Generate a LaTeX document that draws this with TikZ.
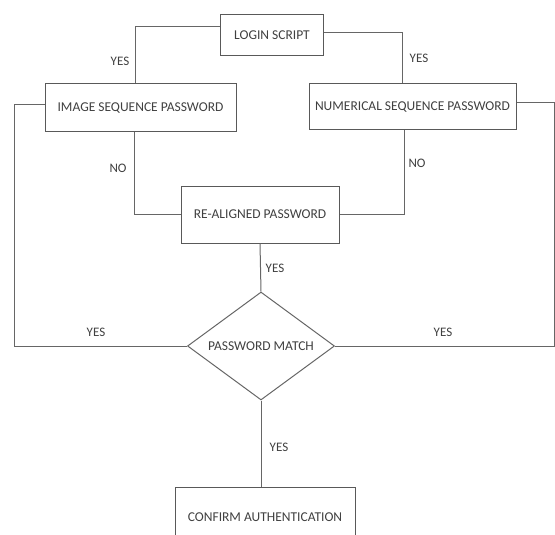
\documentclass[tikz,border=0pt]{standalone}
\usepackage{fontspec}
\setmainfont{Carlito}
\usetikzlibrary{shapes.geometric,positioning}

\tikzset{
  box/.style={draw=black!65,line width=1pt,rectangle,inner sep=0pt,text=black!75,
    font=\fontsize{13.5}{15}\selectfont},
  dec/.style={draw=black!60,line width=1pt,diamond,aspect=1.36,inner sep=0pt,
    minimum width=147pt,minimum height=108pt,text=black!75,font=\fontsize{13.5}{15}\selectfont},
  lbl/.style={inner sep=0pt,text=black!75,font=\fontsize{13}{14}\selectfont},
  con/.style={draw=black!60,line width=1pt}
}

\begin{document}
\begin{tikzpicture}[x=1pt,y=-1pt]
    \useasboundingbox (0,0) rectangle (555,535);
    \node[box,minimum width=103pt,minimum height=41pt] at (272,35.5) (login) {LOGIN SCRIPT};
    \node[box,minimum width=191pt,minimum height=48pt] at (140.5,108) (img) {IMAGE SEQUENCE PASSWORD};
    \node[box,minimum width=207pt,minimum height=46pt] at (412.5,107) (num) {NUMERICAL SEQUENCE PASSWORD};
    \node[box,minimum width=158pt,minimum height=57pt] at (260,214.5) (ral) {RE-ALIGNED PASSWORD};
    \node[dec] at (261,346) (pm) {PASSWORD MATCH};
    \node[box,minimum width=180pt,minimum height=60pt] at (265,517) (conf) {CONFIRM AUTHENTICATION};
%
    \draw[con] ([yshift=8.5pt]login.west) -| ([xshift=-5pt]img.north);
    \draw[con] ([yshift=2.5pt]login.east) -| ([xshift=-10pt]num.north);
    \draw[con] ([xshift=-6pt]img.south) |- (ral.west);
    \draw[con] ([xshift=-8pt]num.south) |- (ral.east);
    \draw[con] ([yshift=3pt]img.west) -- ++(-30,0) |- (pm.west);
    \draw[con] ([yshift=4pt]num.east) -- ++(38,0) |- (pm.east);
    \draw[con] (ral.south) -- (pm.north);
    \draw[con] (pm.south) -- (pm.south |- conf.north);
%
    \node[lbl] at (120,61) (l1) {YES};
    \node[lbl] at (419,58) (l2) {YES};
    \node[lbl] at (118,168) (l3) {NO};
    \node[lbl] at (417,163) (l4) {NO};
    \node[lbl] at (275,268) (l5) {YES};
    \node[lbl] at (96,332) (l6) {YES};
    \node[lbl] at (443,332) (l7) {YES};
    \node[lbl] at (279,447) (l8) {YES};
  \end{tikzpicture}
\end{document}
